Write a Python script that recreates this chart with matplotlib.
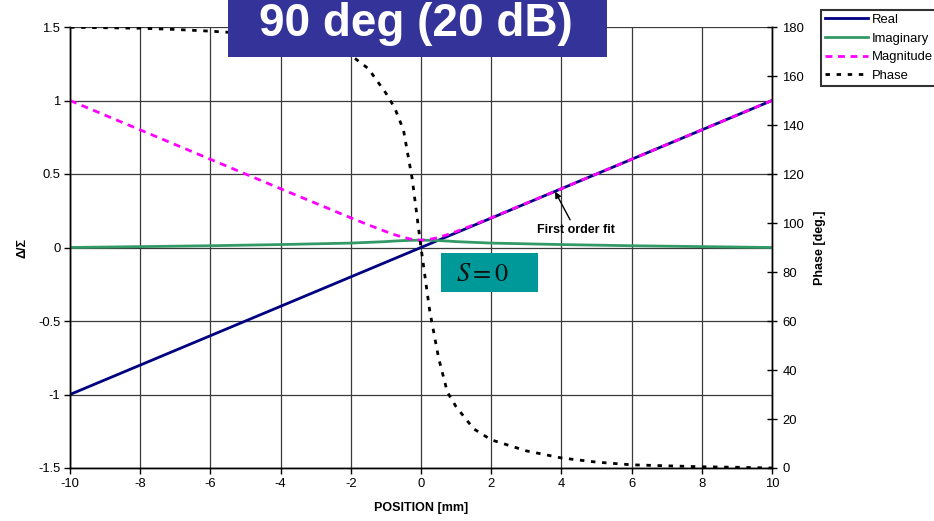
import matplotlib
matplotlib.use('Agg')
import matplotlib.pyplot as plt
from matplotlib.patches import Rectangle
from matplotlib.ticker import FuncFormatter

plt.rcParams['font.family'] = ['Liberation Sans', 'DejaVu Sans']
plt.rcParams['mathtext.fontset'] = 'stix'

# ------------------------------------------------------------
# Monopulse ratio vs. position
# ------------------------------------------------------------
position = [-10, -9, -8, -7, -6, -5, -4, -3, -2, -1.5, -1, -0.75, -0.5, -0.25,
            0, 0.25, 0.5, 0.75, 1, 1.5, 2, 3, 4, 5, 6, 7, 8, 9, 10]
real_part = [-1.0, -0.9, -0.8, -0.7, -0.6, -0.5, -0.4, -0.3, -0.2, -0.15, -0.1, -0.075, -0.05, -0.025,
             0.0, 0.025, 0.05, 0.075, 0.1, 0.15, 0.2, 0.3, 0.4, 0.5, 0.6, 0.7, 0.8, 0.9, 1.0]
imag_part = [0.0, 0.003, 0.006, 0.009, 0.012, 0.016, 0.02, 0.025, 0.03, 0.035, 0.04, 0.044, 0.047, 0.049,
             0.05, 0.049, 0.047, 0.044, 0.04, 0.035, 0.03, 0.025, 0.02, 0.016, 0.012, 0.009, 0.006, 0.003, 0.0]
magnitude = [1.0, 0.9, 0.8, 0.7, 0.6, 0.5, 0.4, 0.301, 0.202, 0.154, 0.108, 0.087, 0.069, 0.055,
             0.05, 0.055, 0.069, 0.087, 0.108, 0.154, 0.202, 0.301, 0.4, 0.5, 0.6, 0.7, 0.8, 0.9, 1.0]
phase_deg = [179.9, 179.7, 179.5, 179.0, 178.3, 177.4, 176.0, 173.0, 168.5, 163.0, 153.0, 147.0, 138.0, 118.0,
             90.0, 64.0, 45.0, 31.0, 25.0, 16.0, 11.5, 7.0, 4.1, 2.4, 1.3, 0.9, 0.5, 0.3, 0.0]

x_ticks = [-10, -8, -6, -4, -2, 0, 2, 4, 6, 8, 10]
y_ticks = [-1.5, -1, -0.5, 0, 0.5, 1, 1.5]
phase_ticks = [0, 20, 40, 60, 80, 100, 120, 140, 160, 180]

fig = plt.figure(figsize=(9.34, 5.21), dpi=100)
ax = fig.add_axes([70 / 934, 53 / 521, 702 / 934, 441 / 521])
ax2 = ax.twinx()

l_real, = ax.plot(position, real_part, color='#000080', lw=2, label='Real')
l_imag, = ax.plot(position, imag_part, color='#339966', lw=2, label='Imaginary')
l_mag, = ax.plot(position, magnitude, color='#ff00ff', lw=2, dashes=(2.5, 2), label='Magnitude')
l_ph, = ax2.plot(position, phase_deg, color='black', lw=2, dashes=(1.6, 2.4), label='Phase')

ax.set_xlim(-10, 10)
ax.set_ylim(-1.5, 1.5)
ax2.set_ylim(0, 180)
ax.set_xticks(x_ticks)
ax.set_yticks(y_ticks)
ax2.set_yticks(phase_ticks)
fmt = FuncFormatter(lambda v, p: '%g' % v)
ax.xaxis.set_major_formatter(fmt)
ax.yaxis.set_major_formatter(fmt)

ax.grid(True, color='#3a3a3a', lw=0.9)
ax.set_axisbelow(True)
for a in (ax, ax2):
    a.spines['top'].set_visible(False)
    for s in ('left', 'right', 'bottom'):
        a.spines[s].set_linewidth(1.0)
        a.spines[s].set_color('black')

ax.tick_params(axis='both', labelsize=9.4, length=4, width=1, colors='black', pad=3)
ax2.tick_params(axis='y', labelsize=9.4, length=7, width=1, direction='inout', pad=4)

ax.set_xlabel('POSITION [mm]', fontsize=9, fontweight='bold', labelpad=9)
ax.set_ylabel('Δ/Σ', fontsize=9, fontweight='bold', labelpad=7)
ax2.set_ylabel('Phase [deg.]', fontsize=9, fontweight='bold', labelpad=7)

ax.annotate('First order fit', xy=(3.82, 0.38), xytext=(4.4, 0.12),
            fontsize=9, fontweight='bold', ha='center', va='center',
            arrowprops=dict(arrowstyle='-|>', color='black', lw=1, mutation_scale=9,
                            shrinkA=1, shrinkB=0))

# title banner
fig.patches.append(Rectangle((228 / 934, 1 - 57 / 521), 379 / 934, 57 / 521,
                             transform=fig.transFigure, facecolor='#333399',
                             edgecolor='none', zorder=5))
fig.text(416 / 934, 1 - 36 / 521, '90 deg (20 dB)', color='white', fontsize=33,
         fontweight='bold', ha='center', va='baseline', zorder=6)

# S = 0 label box
fig.patches.append(Rectangle((441 / 934, 1 - 292 / 521), 97 / 934, 39 / 521,
                             transform=fig.transFigure, facecolor='#009999',
                             edgecolor='none', zorder=5))
fig.text(483 / 934, 1 - 274 / 521, r'$S=0$', color='#111111', fontsize=19,
         ha='center', va='center', zorder=6)

leg = fig.legend(handles=[l_real, l_imag, l_mag, l_ph], loc='upper left',
                 bbox_to_anchor=(821 / 934, 1 - 10 / 521), borderaxespad=0,
                 fontsize=9.4, handlelength=3.3, handletextpad=0.3,
                 labelspacing=0.5, borderpad=0.3, fancybox=False, frameon=True)
leg.get_frame().set_edgecolor('black')
leg.get_frame().set_linewidth(1.5)

plt.savefig('out.png', dpi=100)
